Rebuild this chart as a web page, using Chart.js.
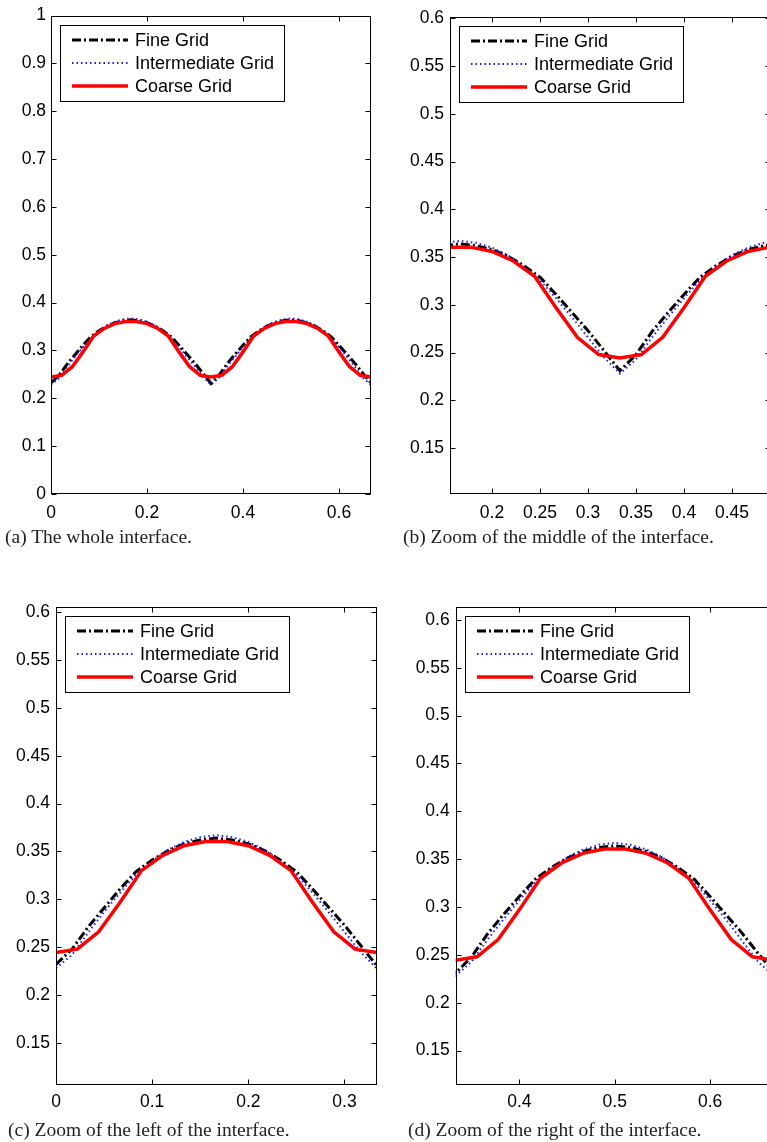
<!DOCTYPE html>
<html>
<head>
<meta charset="utf-8">
<script src="https://cdn.jsdelivr.net/npm/chart.js@4/dist/chart.umd.min.js"></script>
<style>
  html, body { margin: 0; padding: 0; background: #fff; overflow: hidden; width: 767px; height: 1142px; }
  .panel { position: absolute; }
  .cap { position: absolute; font-family: "Liberation Serif", serif; font-size: 19.5px; color: #222; white-space: nowrap; line-height: 22px; }
</style>
</head>
<body>
<div class="panel" style="left:0;top:0"><canvas id="chartA" width="390" height="530"></canvas></div>
<div class="panel" style="left:390px;top:0"><canvas id="chartB" width="400" height="530"></canvas></div>
<div class="panel" style="left:0;top:590px"><canvas id="chartC" width="390" height="530"></canvas></div>
<div class="panel" style="left:390px;top:590px"><canvas id="chartD" width="400" height="530"></canvas></div>
<div class="cap" style="left:5px;top:526px">(a) The whole interface.</div>
<div class="cap" style="left:403px;top:526px">(b) Zoom of the middle of the interface.</div>
<div class="cap" style="left:8px;top:1119px">(c) Zoom of the left of the interface.</div>
<div class="cap" style="left:408px;top:1119px">(d) Zoom of the right of the interface.</div>

<script>
// series names, legend order
const seriesNames = ['Fine Grid', 'Intermediate Grid', 'Coarse Grid'];

// fine and intermediate grids share the same x positions
const fineX = [0, 0.0167, 0.0333, 0.05, 0.0667, 0.0833, 0.1, 0.1167, 0.1333, 0.15, 0.1667,
    0.1833, 0.2, 0.2167, 0.2333, 0.25, 0.2667, 0.2833, 0.3, 0.3167, 0.3333,
    0.35, 0.3667, 0.3833, 0.4, 0.4167, 0.4333, 0.45, 0.4667, 0.4833, 0.5,
    0.5167, 0.5333, 0.55, 0.5667, 0.5833, 0.6, 0.6167, 0.6333, 0.65, 0.6667];
const fineY = [0.232, 0.248, 0.271, 0.291, 0.311, 0.329, 0.341, 0.351, 0.358, 0.362, 0.364,
    0.362, 0.358, 0.351, 0.341, 0.329, 0.311, 0.292, 0.273, 0.252, 0.231,
    0.248, 0.272, 0.292, 0.311, 0.329, 0.341, 0.351, 0.358, 0.362, 0.364,
    0.362, 0.358, 0.351, 0.341, 0.329, 0.311, 0.292, 0.273, 0.252, 0.232];
const interY = [0.228, 0.242, 0.265, 0.287, 0.307, 0.326, 0.340, 0.352, 0.360, 0.365, 0.367,
    0.365, 0.360, 0.352, 0.340, 0.326, 0.307, 0.287, 0.266, 0.245, 0.228,
    0.243, 0.266, 0.287, 0.307, 0.326, 0.340, 0.352, 0.360, 0.365, 0.367,
    0.365, 0.360, 0.352, 0.340, 0.326, 0.307, 0.287, 0.265, 0.243, 0.228];

const coarseX = [0, 0.0222, 0.0444, 0.0667, 0.0889, 0.1111, 0.1333, 0.1556, 0.1778, 0.2, 0.2222,
    0.2444, 0.2667, 0.2889, 0.3111, 0.3333, 0.3556, 0.3778, 0.4, 0.4222, 0.4444,
    0.4667, 0.4889, 0.5111, 0.5333, 0.5556, 0.5778, 0.6, 0.6222, 0.6444, 0.6667];
const coarseY = [0.2445, 0.248, 0.266, 0.297, 0.330, 0.346, 0.356, 0.3605, 0.3605, 0.356, 0.346,
    0.330, 0.297, 0.266, 0.248, 0.2445, 0.248, 0.266, 0.297, 0.330, 0.346,
    0.356, 0.3605, 0.3605, 0.356, 0.346, 0.330, 0.297, 0.266, 0.248, 0.2445];

// tick values for each panel
const ticksAX = [0, 0.2, 0.4, 0.6];
const ticksAY = [0, 0.1, 0.2, 0.3, 0.4, 0.5, 0.6, 0.7, 0.8, 0.9, 1];
const ticksBX = [0.2, 0.25, 0.3, 0.35, 0.4, 0.45];
const ticksZoomY = [0.15, 0.2, 0.25, 0.3, 0.35, 0.4, 0.45, 0.5, 0.55, 0.6];
const ticksCX = [0, 0.1, 0.2, 0.3];
const ticksDX = [0.4, 0.5, 0.6];

function pts(xs, ys) {
    return xs.map((x, i) => ({ x: x, y: ys[i] }));
}

const styles = [
    { borderColor: '#000', borderWidth: 3, borderDash: [9, 3, 2, 3], order: 3 },
    { borderColor: '#1a1aff', borderWidth: 2, borderDash: [1.5, 3], order: 2 },
    { borderColor: '#ff0000', borderWidth: 3.5, borderDash: [], order: 1 }
];

// box, inward ticks on all sides, and a legend inside the axes
const framePlugin = {
    id: 'frame',
    afterDraw(chart) {
        const ctx = chart.ctx;
        const a = chart.chartArea;
        const xs = chart.scales.x, ys = chart.scales.y;
        const L = Math.round(a.left) + 0.5, R = Math.round(a.right) - 0.5;
        const T = Math.round(a.top) + 0.5, B = Math.round(a.bottom) - 0.5;
        ctx.save();
        ctx.strokeStyle = '#000';
        ctx.lineWidth = 1;
        ctx.setLineDash([]);
        ctx.strokeRect(L, T, R - L, B - T);
        ctx.beginPath();
        xs.ticks.forEach(t => {
            const p = Math.round(xs.getPixelForValue(t.value)) + 0.5;
            ctx.moveTo(p, B); ctx.lineTo(p, B - 5);
            ctx.moveTo(p, T); ctx.lineTo(p, T + 5);
        });
        ys.ticks.forEach(t => {
            const p = Math.round(ys.getPixelForValue(t.value)) + 0.5;
            ctx.moveTo(L, p); ctx.lineTo(L + 5, p);
            ctx.moveTo(R, p); ctx.lineTo(R - 5, p);
        });
        ctx.stroke();

        // legend
        const bx = Math.round(a.left) + 9, by = Math.round(a.top) + 9, bw = 224, bh = 76;
        ctx.fillStyle = '#fff';
        ctx.fillRect(bx, by, bw, bh);
        ctx.strokeRect(bx + 0.5, by + 0.5, bw, bh);
        ctx.font = '18px "Liberation Sans", Arial, sans-serif';
        ctx.textBaseline = 'middle';
        ctx.textAlign = 'left';
        seriesNames.forEach((name, i) => {
            const ry = by + 15 + i * 23;
            const st = styles[i];
            ctx.beginPath();
            ctx.strokeStyle = st.borderColor;
            ctx.lineWidth = st.borderWidth;
            ctx.setLineDash(st.borderDash);
            ctx.moveTo(bx + 12, ry);
            ctx.lineTo(bx + 68, ry);
            ctx.stroke();
            ctx.setLineDash([]);
            ctx.fillStyle = '#000';
            ctx.fillText(name, bx + 75, ry + 1);
        });
        ctx.restore();
    }
};

function makeChart(id, opt) {
    const ctx = document.getElementById(id).getContext('2d');
    const series = [pts(fineX, fineY), pts(fineX, interY), pts(coarseX, coarseY)];
    const data = {
        datasets: series.map((d, i) => Object.assign({
            label: seriesNames[i],
            data: d,
            pointRadius: 0,
            tension: 0,
            fill: false
        }, styles[i]))
    };
    const tickFont = { family: '"Liberation Sans", Arial, sans-serif', size: 17.5 };
    const config = {
        type: 'line',
        data: data,
        options: {
            responsive: false,
            animation: false,
            devicePixelRatio: 1,
            layout: { padding: { top: opt.padTop, right: opt.padRight, left: 0, bottom: 0 } },
            plugins: { legend: { display: false }, tooltip: { enabled: false } },
            scales: {
                x: {
                    type: 'linear',
                    min: opt.xMin,
                    max: opt.xMax,
                    grid: { display: false, drawTicks: false },
                    border: { display: false },
                    afterBuildTicks: s => { s.ticks = opt.xTicks.map(v => ({ value: v })); },
                    afterFit: s => { s.height = opt.xHeight; },
                    ticks: {
                        color: '#000',
                        font: tickFont,
                        padding: opt.xPad,
                        maxRotation: 0,
                        callback: v => String(Math.round(v * 100) / 100)
                    }
                },
                y: {
                    min: opt.yMin,
                    max: opt.yMax,
                    grid: { display: false, drawTicks: false },
                    border: { display: false },
                    afterBuildTicks: s => { s.ticks = opt.yTicks.map(v => ({ value: v })); },
                    afterFit: s => { s.width = opt.yWidth; },
                    ticks: {
                        color: '#000',
                        font: tickFont,
                        padding: opt.yPad,
                        callback: v => String(Math.round(v * 100) / 100)
                    }
                }
            }
        },
        plugins: [framePlugin]
    };
    return new Chart(ctx, config);
}

makeChart('chartA', {
    xMin: 0, xMax: 0.6667, yMin: 0, yMax: 1,
    xTicks: ticksAX, yTicks: ticksAY,
    padTop: 14, padRight: 19, yWidth: 51, xHeight: 36, xPad: 9, yPad: 5
});
makeChart('chartB', {
    xMin: 0.15625, xMax: 0.4906, yMin: 0.102, yMax: 0.602,
    xTicks: ticksBX, yTicks: ticksZoomY,
    padTop: 14, padRight: 19, yWidth: 60, xHeight: 36, xPad: 9, yPad: 6
});
makeChart('chartC', {
    xMin: 0, xMax: 0.3333, yMin: 0.106, yMax: 0.606,
    xTicks: ticksCX, yTicks: ticksZoomY,
    padTop: 15, padRight: 13.5, yWidth: 56, xHeight: 35, xPad: 7, yPad: 6
});
makeChart('chartD', {
    xMin: 0.3333, xMax: 0.6667, yMin: 0.114, yMax: 0.614,
    xTicks: ticksDX, yTicks: ticksZoomY,
    padTop: 15, padRight: 16.3, yWidth: 65.7, xHeight: 35, xPad: 7, yPad: 6
});
</script>
</body>
</html>
